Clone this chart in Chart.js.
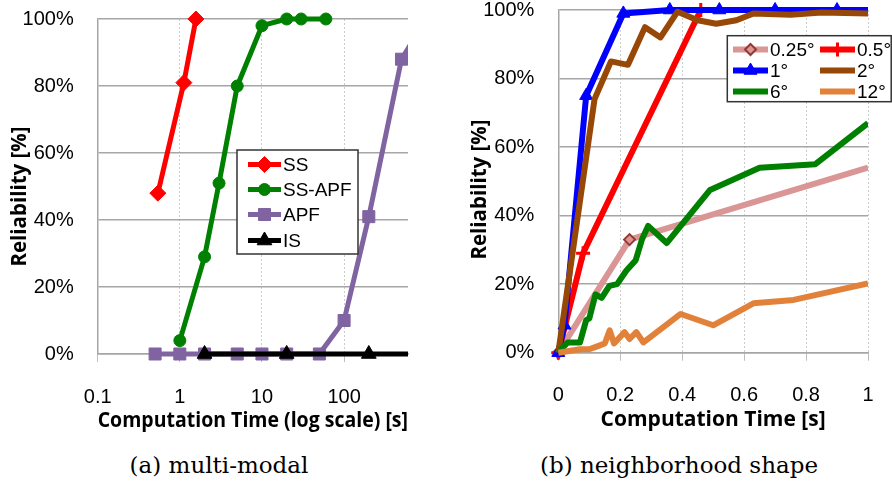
<!DOCTYPE html>
<html lang="en">
<head>
<meta charset="UTF-8">
<title>Reliability vs computation time</title>
<script src="https://cdn.jsdelivr.net/npm/chart.js"></script>
<style>
  body { margin: 0; background: #fff; width: 892px; height: 485px; position: relative; overflow: hidden; }
  canvas { position: absolute; top: 0; }
  #chartA { left: 0; }
  #chartB { left: 446px; }
  .caption { position: absolute; top: 452px; font: 23px "DejaVu Serif", serif; line-height: 26px; color: #000; text-align: center; white-space: nowrap; }
</style>
</head>
<body>
<canvas id="chartA" width="446" height="440"></canvas>
<canvas id="chartB" width="446" height="440"></canvas>
<div class="caption" style="left:0; width:438px">(a) multi-modal</div>
<div class="caption" style="left:466px; width:426px">(b) neighborhood shape</div>

<script>
// (a) multi-modal -- time [s] on a log axis, reliability [%]
const ssTime = [0.54, 1.12, 1.57];
const ssRel = [48, 81, 100];
const ssApfTime = [1, 2, 3, 5, 10, 20, 30, 60];
const ssApfRel = [4, 29, 51, 80, 98, 100, 100, 100];
const apfTime = [0.5, 1, 2, 5, 10, 20, 50, 100, 200, 500, 1000];
const apfRel = [0, 0, 0, 0, 0, 0, 0, 10, 41, 88, 100];
const isTime = [2, 20, 200, 2000];
const isRel = [0, 0, 0, 0];
const logTicks = [0.1, 1, 10, 100];

// (b) neighborhood shape -- time [s], reliability [%]
const t025 = [0, 0.23, 1];
const r025 = [0, 33, 54];
const t05 = [0, 0.08, 0.46];
const r05 = [0, 29, 100];
const t1 = [0, 0.02, 0.09, 0.21, 0.36, 0.52, 0.7, 0.9, 1.1];
const r1 = [0, 8, 75, 99, 100, 100, 100, 100, 100];
const t2 = [0, 0.117, 0.17, 0.225, 0.28, 0.33, 0.385, 0.45, 0.51, 0.575, 0.63, 0.75, 0.85, 1];
const r2 = [0, 74, 85, 84, 95, 92, 99.5, 97, 96, 97, 99, 98.6, 99.3, 99];
const t6 = [0, 0.02, 0.03, 0.07, 0.09, 0.1, 0.12, 0.14, 0.165, 0.19, 0.205, 0.22, 0.25, 0.27, 0.29, 0.35, 0.49, 0.65, 0.83, 1];
const r6 = [0, 2, 3, 3, 9.5, 10, 17, 16, 19.5, 20, 22, 24, 27, 33, 37, 32, 47.5, 54, 55, 67];
const t12 = [0, 0.07, 0.1, 0.13, 0.15, 0.166, 0.18, 0.214, 0.23, 0.252, 0.275, 0.395, 0.5, 0.63, 0.76, 1];
const r12 = [0, 1, 1, 2, 2.7, 6.5, 2.7, 6, 4, 6, 3, 11.3, 8, 14.4, 15.4, 20.2];
const linTicks = [0, 0.2, 0.4, 0.6, 0.8, 1];

const yTickFont = { family: 'Liberation Sans', size: 20, lineHeight: 1 };
// tall line box pushes the x labels down without a big ticks.padding,
// which Chart.js would also add to the side padding of the plot
const xTickFont = { family: 'Liberation Sans', size: 20, lineHeight: 2.5 };
const gridGrey = '#a6a6a6';

function series(label, xs, ys, color, style, radius, order) {
  return {
    label,
    data: xs.map((x, i) => ({ x, y: ys[i] })),
    showLine: true,
    borderColor: color,
    backgroundColor: color,
    borderWidth: 5,
    borderJoinStyle: 'round',
    pointStyle: style,
    pointRadius: radius,
    pointBackgroundColor: color,
    pointBorderColor: color,
    pointBorderWidth: 1,
    order,
    clip: { left: false, top: false, right: 0, bottom: false }
  };
}

function drawMarker(ctx, ds, x, y) {
  const r = Math.max(...[].concat(ds.pointRadius));
  if (!r) return;
  ctx.save();
  ctx.fillStyle = ds.pointBackgroundColor;
  ctx.strokeStyle = ds.pointBorderColor;
  ctx.lineWidth = ds.pointBorderWidth;
  ctx.beginPath();
  if (ds.pointStyle === 'circle') {
    ctx.arc(x, y, r, 0, Math.PI * 2);
  } else if (ds.pointStyle === 'rect') {
    const s = r * Math.SQRT1_2;
    ctx.rect(x - s, y - s, 2 * s, 2 * s);
  } else if (ds.pointStyle === 'rectRot') {
    ctx.moveTo(x - r, y); ctx.lineTo(x, y - r); ctx.lineTo(x + r, y); ctx.lineTo(x, y + r); ctx.closePath();
  } else if (ds.pointStyle === 'triangle') {
    ctx.moveTo(x, y - r);
    ctx.lineTo(x + r * 0.866, y + r / 2);
    ctx.lineTo(x - r * 0.866, y + r / 2);
    ctx.closePath();
  } else if (ds.pointStyle === 'cross') {
    ctx.moveTo(x, y - r); ctx.lineTo(x, y + r);
    ctx.moveTo(x - r, y); ctx.lineTo(x + r, y);
    ctx.stroke();
    ctx.restore();
    return;
  }
  ctx.fill();
  ctx.stroke();
  ctx.restore();
}

// boxed legend at a fixed spot inside the plot, like the original figure
const boxLegend = {
  id: 'boxLegend',
  afterDraw(chart, args, opts) {
    const ctx = chart.ctx;
    const [x1, y1, x2, y2] = opts.box;
    ctx.save();
    ctx.fillStyle = '#fff';
    ctx.fillRect(x1, y1, x2 - x1, y2 - y1);
    ctx.strokeStyle = '#333';
    ctx.lineWidth = 1.5;
    ctx.strokeRect(x1, y1, x2 - x1, y2 - y1);
    ctx.font = opts.font;
    ctx.textBaseline = 'middle';
    opts.items.forEach((it, i) => {
      const ds = chart.data.datasets[i];
      ctx.strokeStyle = ds.borderColor;
      ctx.lineWidth = ds.borderWidth;
      ctx.beginPath();
      ctx.moveTo(it[0], it[1]);
      ctx.lineTo(it[0] + opts.sample, it[1]);
      ctx.stroke();
      drawMarker(ctx, ds, it[0] + opts.sample / 2, it[1]);
      ctx.fillStyle = '#000';
      ctx.fillText(ds.label, it[0] + opts.sample + 2, it[1] + 1);
    });
    ctx.restore();
  }
};

const yTitle = {
  id: 'yTitle',
  afterDraw(chart, args, opts) {
    const ctx = chart.ctx;
    ctx.save();
    ctx.translate(opts.x, opts.y);
    ctx.rotate(-Math.PI / 2);
    ctx.font = 'bold 20.5px "Open Sans"';
    ctx.fillStyle = '#000';
    ctx.textAlign = 'center';
    ctx.textBaseline = 'middle';
    ctx.fillText(opts.text, 0, 0);
    ctx.restore();
  }
};

// y labels sit 24px left of the axis: done with an invisible tick so the
// scale does not add that gap to the top padding
function yScale(width) {
  return {
    min: 0, max: 100,
    afterFit: s => { s.width = width; },
    ticks: { stepSize: 20, callback: v => v + '%', font: yTickFont, color: '#000', padding: 0 },
    grid: { color: gridGrey, lineWidth: 1.5, tickLength: 24, tickColor: 'rgba(0,0,0,0)' },
    border: { color: gridGrey, width: 1.5 }
  };
}

function xGrid() {
  return { color: '#cccccc', lineWidth: 1, tickLength: 8, tickColor: '#bdbdbd' };
}

new Chart(document.getElementById('chartA'), {
  type: 'scatter',
  plugins: [boxLegend, yTitle],
  data: {
    datasets: [
      series('SS', ssTime, ssRel, '#ff0000', 'rectRot', 8, 4),
      series('SS-APF', ssApfTime, ssApfRel, '#008000', 'circle', 6, 3),
      series('APF', apfTime, apfRel, '#8064a2', 'rect', 8.5, 2),
      series('IS', isTime, isRel, '#000000', 'triangle', 8.5, 1)
    ]
  },
  options: {
    responsive: false,
    animation: false,
    events: [],
    layout: { padding: { left: 0, top: 19, right: 38, bottom: 6 } },
    plugins: {
      legend: { display: false },
      tooltip: { enabled: false },
      boxLegend: {
        box: [237, 150, 358, 254], sample: 33, font: '19px "Liberation Sans"',
        items: [[248, 164.5], [248, 189.5], [248, 214.5], [248, 240.5]]
      },
      yTitle: { text: 'Reliability [%]', x: 20, y: 196.5 }
    },
    scales: {
      x: {
        type: 'logarithmic',
        min: 0.1, max: 600,
        afterBuildTicks: s => { s.ticks = logTicks.map(v => ({ value: v })); },
        afterFit: s => { s.height = 80; },
        ticks: { callback: v => String(v), font: xTickFont, color: '#000', padding: 10, maxRotation: 0 },
        grid: xGrid(),
        border: { color: gridGrey, width: 1.5, dash: [2, 2] },
        title: {
          display: true, text: 'Computation Time (log scale) [s]', color: '#000',
          font: { family: 'Open Sans', size: 22, weight: 'bold' }, padding: { top: 0, bottom: 0 }
        }
      },
      y: yScale(97.7)
    }
  }
});

const pink = series('0.25°', t025, r025, '#d99694', 'rectRot', [5.5, 5.5, 0], 6);
pink.pointBackgroundColor = '#d99694';
pink.pointBorderColor = '#953735';
pink.pointBorderWidth = 2;
const red = series('0.5°', t05, r05, '#ff0000', 'cross', 7, 5);
red.pointBorderWidth = 3;

const datasetsB = [
  pink,
  red,
  series('1°', t1, r1, '#0000ff', 'triangle', 7.5, 4),
  series('2°', t2, r2, '#974806', 'circle', 0, 3),
  series('6°', t6, r6, '#008000', 'circle', 0, 2),
  series('12°', t12, r12, '#e2823a', 'circle', 0, 1)
];
datasetsB.forEach(d => { d.borderWidth = 6; });

new Chart(document.getElementById('chartB'), {
  type: 'scatter',
  plugins: [boxLegend, yTitle],
  data: { datasets: datasetsB },
  options: {
    responsive: false,
    animation: false,
    events: [],
    layout: { padding: { left: 0, top: 10, right: 24, bottom: 7.3 } },
    plugins: {
      legend: { display: false },
      tooltip: { enabled: false },
      boxLegend: {
        box: [281.3, 35.7, 445.2, 101.7], sample: 35, font: '19px "Liberation Sans"',
        items: [[287, 49.5], [374, 49.5], [287, 70.5], [374, 70.5], [287, 91.5], [374, 91.5]]
      },
      yTitle: { text: 'Reliability [%]', x: 34, y: 189.5 }
    },
    scales: {
      x: {
        type: 'linear',
        min: 0, max: 1,
        afterBuildTicks: s => { s.ticks = linTicks.map(v => ({ value: v })); },
        afterFit: s => { s.height = 80; },
        ticks: { callback: v => String(v), font: xTickFont, color: '#000', padding: 9.3, maxRotation: 0 },
        grid: xGrid(),
        border: { color: gridGrey, width: 1.5, dash: [2, 2] },
        title: {
          display: true, text: 'Computation Time [s]', color: '#000',
          font: { family: 'Open Sans', size: 21, weight: 'bold' }, padding: { top: 0, bottom: 0 }
        }
      },
      y: yScale(112.3)
    }
  }
});
</script>
</body>
</html>
